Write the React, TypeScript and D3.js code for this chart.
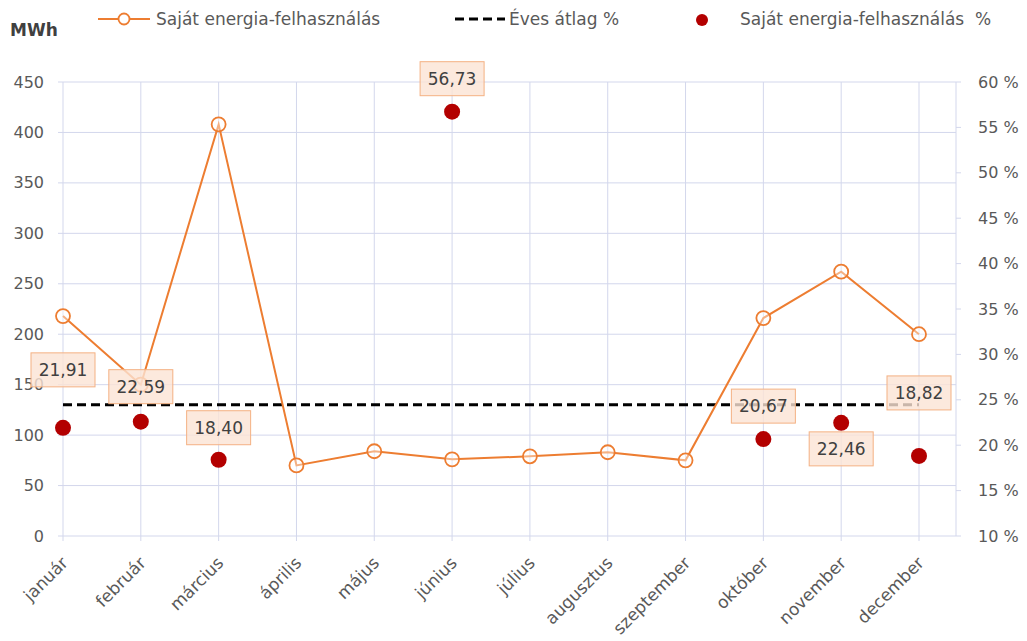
import * as d3 from "d3";

const months = ["január", "február", "március", "április", "május", "június", "július", "augusztus", "szeptember", "október", "november", "december"];
const energyMWh = [218, 150, 408, 70, 84, 76, 79, 83, 75, 216, 262, 200];
const sharePct: (number | null)[] = [21.91, 22.59, 18.4, null, null, 56.73, null, null, null, 20.67, 22.46, 18.82];
const shareLabels = ["21,91", "22,59", "18,40", "", "", "56,73", "", "", "", "20,67", "22,46", "18,82"];
// label offset from the dot (px) - Excel placed them by hand
const labelDy = [-58, -35, -32, 0, 0, -33, 0, 0, 0, -33, 26, -63];
const avgPct = 24.45;
const leftTicks = [0, 50, 100, 150, 200, 250, 300, 350, 400, 450];
const rightTicks = [10, 15, 20, 25, 30, 35, 40, 45, 50, 55, 60];

const W = 1027;
const H = 641;
const top = 82;
const bottom = 536;
const left = 63;
const right = 956;

const ORANGE = "#ED7D31";
const RED = "#B30000";
const GRID = "#D3D7EC";
const TXT = "#595959";
const FONT = "'DejaVu Sans', Arial, sans-serif";

export default function App() {
  const x = d3.scalePoint<string>().domain(months).range([left, 919]);
  const y = d3.scaleLinear().domain([0, 450]).range([bottom, top]);
  const y2 = d3.scaleLinear().domain([10, 60]).range([bottom, top]);

  const line = d3
    .line<number>()
    .x((_, i) => x(months[i])!)
    .y((d) => y(d));

  return (
    <svg width={W} height={H} style={{ position: "absolute", left: 0, top: 0, background: "#fff" }} fontFamily={FONT}>
      {/* gridlines */}
      {leftTicks.map((t) => (
        <line key={"h" + t} x1={58} x2={right} y1={y(t)} y2={y(t)} stroke={GRID} strokeWidth={1} />
      ))}
      {months.map((m) => (
        <line key={"v" + m} x1={x(m)} x2={x(m)} y1={top} y2={bottom + 5} stroke={GRID} strokeWidth={1} />
      ))}
      <line x1={right} x2={right} y1={top} y2={bottom} stroke={GRID} />
      {rightTicks.map((t) => (
        <line key={"rt" + t} x1={right} x2={right + 5} y1={y2(t)} y2={y2(t)} stroke={GRID} />
      ))}

      {/* left axis labels */}
      {leftTicks.map((t) => (
        <text key={"l" + t} x={44} y={y(t)} dy="0.35em" textAnchor="end" fontSize={16} fill={TXT}>
          {t}
        </text>
      ))}
      {/* right axis labels */}
      {rightTicks.map((t) => (
        <text key={"r" + t} x={978} y={y2(t)} dy="0.35em" fontSize={16} fill={TXT}>
          {t} %
        </text>
      ))}
      {/* month labels */}
      {months.map((m) => (
        <text
          key={"m" + m}
          transform={`translate(${x(m)! + 6},${bottom + 28}) rotate(-45)`}
          textAnchor="end"
          fontSize={17}
          fill={TXT}
        >
          {m}
        </text>
      ))}

      {/* annual average */}
      <line x1={left} x2={919} y1={y2(avgPct)} y2={y2(avgPct)} stroke="#000" strokeWidth={3} strokeDasharray="9 5" />

      {/* energy line */}
      <path d={line(energyMWh) ?? ""} fill="none" stroke={ORANGE} strokeWidth={2} />
      {energyMWh.map((v, i) => (
        <circle key={"e" + i} cx={x(months[i])} cy={y(v)} r={7} fill="#fff" fillOpacity={0.4} stroke={ORANGE} strokeWidth={1.8} />
      ))}

      {/* share dots + labels */}
      {sharePct.map((v, i) =>
        v == null ? null : <circle key={"s" + i} cx={x(months[i])} cy={y2(v)} r={8} fill={RED} />
      )}
      {sharePct.map((v, i) =>
        v == null ? null : (
          <g key={"sl" + i} transform={`translate(${x(months[i])},${y2(v) + labelDy[i]})`}>
            <rect x={-32} y={-17} width={64} height={34} fill="#FBE4D5" fillOpacity={0.8} stroke="#F4B183" strokeWidth={1} />
            <text x={0} y={0} dy="0.35em" textAnchor="middle" fontSize={17} fill="#404040">
              {shareLabels[i]}
            </text>
          </g>
        )
      )}

      {/* legend */}
      <text x={10} y={36} fontSize={17} fontWeight="bold" fill="#404040">
        MWh
      </text>
      <line x1={98} x2={150} y1={19} y2={19} stroke={ORANGE} strokeWidth={2} />
      <circle cx={124} cy={19} r={5.5} fill="#fff" stroke={ORANGE} strokeWidth={1.8} />
      <text x={156} y={19} dy="0.35em" fontSize={17} fill={TXT}>
        Saját energia-felhasználás
      </text>
      <line x1={455} x2={505} y1={19} y2={19} stroke="#000" strokeWidth={3} strokeDasharray="9 5" />
      <text x={509} y={19} dy="0.35em" fontSize={17} fill={TXT}>
        Éves átlag %
      </text>
      <circle cx={702} cy={20} r={6} fill={RED} />
      <text x={740} y={19} dy="0.35em" fontSize={17} fill={TXT} style={{ whiteSpace: "pre" }}>
        Saját energia-felhasználás  %
      </text>
    </svg>
  );
}
